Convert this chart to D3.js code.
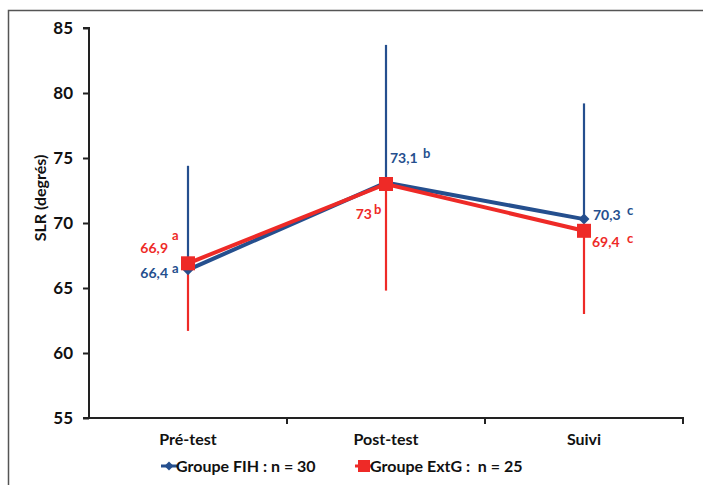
<!DOCTYPE html>
<html><head><meta charset="utf-8">
<script src="https://cdn.jsdelivr.net/npm/d3@7/dist/d3.min.js"></script>
<style>body{margin:0;background:#fff;} svg{display:block;}</style>
</head><body>
<svg id="c" width="703" height="485"></svg>
<script>
const categories = ["Pré-test", "Post-test", "Suivi"];
const fihMeans = [66.4, 73.1, 70.3];
const fihUpper = [74.4, 83.7, 79.2];
const extgMeans = [66.9, 73.0, 69.4];
const extgLower = [61.7, 64.8, 63.0];
const fihLabels = ["66,4", "73,1", "70,3"];
const extgLabels = ["66,9", "73", "69,4"];
const letters = ["a", "b", "c"];
const yTicks = [55, 60, 65, 70, 75, 80, 85];
const seriesNames = ["Groupe FIH : n = 30", "Groupe ExtG :  n = 25"];

const BLUE = "#254f8e", RED = "#ee2a27";
const FONT = "Lato, 'Open Sans', sans-serif";
const svg = d3.select("#c");

// frame
svg.append("rect").attr("x", 8.5).attr("y", 10.5).attr("width", 720).attr("height", 500)
  .attr("fill", "none").attr("stroke", "#555").attr("stroke-width", 1.5);

const x = d3.scaleBand().domain(categories).range([89, 683]).padding(0);
const y = d3.scaleLinear().domain([55, 85]).range([418, 28]);
const cx = d => x(d) + x.bandwidth() / 2;

// axes
const yAxis = d3.axisLeft(y).tickValues(yTicks).tickSize(6).tickPadding(10);
const gy = svg.append("g").attr("transform", "translate(89,0)").call(yAxis);
gy.select(".domain").attr("stroke", "#222").attr("stroke-width", 2);
gy.selectAll(".tick line").attr("stroke", "#222").attr("stroke-width", 2);
gy.selectAll(".tick text").attr("font-family", FONT).attr("font-weight", "bold")
  .attr("font-size", 17).attr("fill", "#111");
gy.select(".domain").attr("d", "M-6,28H0V418H-6");

const xAxis = d3.axisBottom(x).tickSize(0).tickPadding(16);
const gx = svg.append("g").attr("transform", "translate(0,418)").call(xAxis);
gx.select(".domain").attr("stroke", "#222").attr("stroke-width", 2).attr("d", "M89,0H683V6");
gx.selectAll(".tick text").attr("font-family", FONT).attr("font-weight", "bold")
  .attr("font-size", 16).attr("fill", "#111");
const seps = x.domain().slice(1).map(d => x(d)).concat([683]);
gx.selectAll("line.sep").data(seps).enter().append("line").attr("class", "sep")
  .attr("x1", d => d).attr("x2", d => d).attr("y1", 0).attr("y2", 6)
  .attr("stroke", "#222").attr("stroke-width", 2);

// y label
svg.append("text").attr("transform", "translate(46,198) rotate(-90)")
  .attr("text-anchor", "middle").attr("font-family", FONT).attr("font-weight", "bold")
  .attr("font-size", 16).attr("fill", "#111").text("SLR (degrés)");

// error bars
svg.selectAll("line.eb-b").data(categories).enter().append("line")
  .attr("x1", cx).attr("x2", cx).attr("y1", (d, i) => y(fihMeans[i])).attr("y2", (d, i) => y(fihUpper[i]))
  .attr("stroke", BLUE).attr("stroke-width", 2.2);
svg.selectAll("line.eb-r").data(categories).enter().append("line")
  .attr("x1", cx).attr("x2", cx).attr("y1", (d, i) => y(extgMeans[i])).attr("y2", (d, i) => y(extgLower[i]))
  .attr("stroke", RED).attr("stroke-width", 2.2);

// lines
const line = d3.line().x(d => cx(d[0])).y(d => y(d[1]));
svg.append("path").datum(categories.map((c, i) => [c, fihMeans[i]])).attr("d", line)
  .attr("fill", "none").attr("stroke", BLUE).attr("stroke-width", 4);
svg.append("path").datum(categories.map((c, i) => [c, extgMeans[i]])).attr("d", line)
  .attr("fill", "none").attr("stroke", RED).attr("stroke-width", 4);

// markers
svg.selectAll("path.mb").data(categories).enter().append("path")
  .attr("d", d3.symbol().type(d3.symbolSquare).size(60))
  .attr("transform", (d, i) => `translate(${cx(d)},${y(fihMeans[i])}) rotate(45)`)
  .attr("fill", BLUE);
svg.selectAll("rect.mr").data(categories).enter().append("rect")
  .attr("x", d => cx(d) - 7).attr("y", (d, i) => y(extgMeans[i]) - 7)
  .attr("width", 14).attr("height", 14).attr("fill", RED);

// data labels: [dx, dy, anchor] relative to the point
const fihOff = [[-20, 8, "end"], [4, -20, "start"], [9, 1, "start"]];
const extgOff = [[-20, -10, "end"], [-14, 35, "end"], [8, 16, "start"]];
const fihSup = [[-16, 3], [37, -25], [43, -4]];
const extgSup = [[-16, -23], [-12, 30], [43, 12]];
function addText(i, val, txt, color, dx, dy, anchor, size) {
  svg.append("text").attr("x", cx(categories[i]) + dx).attr("y", y(val) + dy)
    .attr("text-anchor", anchor).attr("font-family", FONT).attr("font-weight", "bold")
    .attr("font-size", size).attr("fill", color).text(txt);
}
fihMeans.forEach((v, i) => addText(i, v, fihLabels[i], BLUE, fihOff[i][0], fihOff[i][1], fihOff[i][2], 14));
extgMeans.forEach((v, i) => addText(i, v, extgLabels[i], RED, extgOff[i][0], extgOff[i][1], extgOff[i][2], 14));
fihMeans.forEach((v, i) => addText(i, v, letters[i], BLUE, fihSup[i][0], fihSup[i][1], "start", 13));
extgMeans.forEach((v, i) => addText(i, v, letters[i], RED, extgSup[i][0], extgSup[i][1], "start", 13));

// legend
const lg = svg.append("g").attr("transform", "translate(0,466)");
lg.append("line").attr("x1", 161).attr("x2", 177).attr("y1", 0).attr("y2", 0).attr("stroke", BLUE).attr("stroke-width", 3);
lg.append("path").attr("d", d3.symbol().type(d3.symbolSquare).size(40)).attr("transform", "translate(169,0) rotate(45)").attr("fill", BLUE);
lg.append("text").attr("x", 176).attr("y", 6).attr("font-family", FONT).attr("font-weight", "bold")
  .attr("font-size", 16).attr("fill", "#111").text(seriesNames[0]);
lg.append("line").attr("x1", 355).attr("x2", 371).attr("y1", 0).attr("y2", 0).attr("stroke", RED).attr("stroke-width", 3);
lg.append("rect").attr("x", 358).attr("y", -6).attr("width", 12).attr("height", 12).attr("fill", RED);
lg.append("text").attr("x", 370).attr("y", 6).attr("font-family", FONT).attr("font-weight", "bold")
  .attr("font-size", 16).attr("fill", "#111").style("white-space", "pre").text(seriesNames[1]);
</script>
</body></html>
